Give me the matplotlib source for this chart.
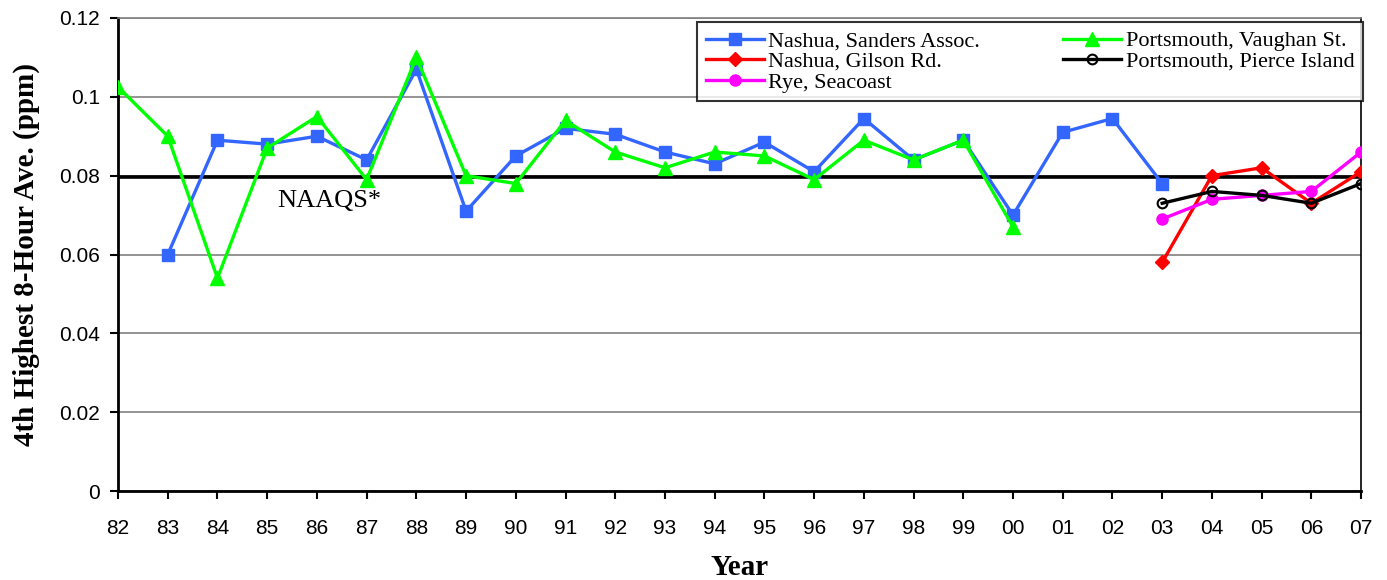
import numpy as np
import matplotlib.pyplot as plt

years = ["82", "83", "84", "85", "86", "87", "88", "89", "90", "91", "92", "93", "94",
         "95", "96", "97", "98", "99", "00", "01", "02", "03", "04", "05", "06", "07"]
nan = np.nan

nashua_sanders = [nan, 0.060, 0.089, 0.088, 0.090, 0.084, 0.107, 0.071, 0.085, 0.092,
                  0.0905, 0.086, 0.083, 0.0885, 0.081, 0.0945, 0.084, 0.089, 0.070,
                  0.091, 0.0945, 0.078, nan, nan, nan, nan]
ports_vaughan = [0.1025, 0.090, 0.054, 0.087, 0.095, 0.079, 0.110, 0.080, 0.078, 0.094,
                 0.086, 0.082, 0.086, 0.085, 0.079, 0.089, 0.084, 0.089, 0.067,
                 nan, nan, nan, nan, nan, nan, nan]
nashua_gilson = [nan] * 21 + [0.058, 0.080, 0.082, 0.073, 0.081]
ports_pierce = [nan] * 21 + [0.073, 0.076, 0.075, 0.073, 0.078]
rye_seacoast = [nan] * 21 + [0.069, 0.074, 0.075, 0.076, 0.086]
naaqs = 0.0797

x = np.arange(len(years))

fig = plt.figure(figsize=(13.87, 5.8), dpi=100)
ax = fig.add_axes([0.0851, 0.1534, 0.8962, 0.8156])

ax.set_ylim(0, 0.12)
ax.set_xlim(0, len(years) - 1)
ax.set_yticks(np.arange(0, 0.121, 0.02))
ax.set_yticklabels(["0", "0.02", "0.04", "0.06", "0.08", "0.1", "0.12"])
ax.set_xticks(x)
ax.set_xticklabels(years)
ax.grid(axis="y", color="#808080", lw=1.2, zorder=0)

ax.plot([x[0], x[-1]], [naaqs, naaqs], color="black", lw=2.6, zorder=2)
ax.text(4.25, naaqs - 0.0034, "NAAQS*", family="Liberation Serif", fontsize=19,
        ha="center", va="top")

l1, = ax.plot(x, nashua_sanders, color="#3366FF", lw=2.4, marker="s", ms=8,
              label="Nashua, Sanders Assoc.", zorder=3)
l2, = ax.plot(x, ports_vaughan, color="#00FF00", lw=2.4, marker="^", ms=10,
              label="Portsmouth, Vaughan St.", zorder=3)
l3, = ax.plot(x, nashua_gilson, color="#FF0000", lw=2.4, marker="D", ms=7,
              label="Nashua, Gilson Rd.", zorder=4)
l4, = ax.plot(x, ports_pierce, color="black", lw=2.4, marker="o", ms=7,
              mfc="none", mew=1.5, label="Portsmouth, Pierce Island", zorder=5)
l5, = ax.plot(x, rye_seacoast, color="#FF00FF", lw=2.4, marker="o", ms=8,
              label="Rye, Seacoast", zorder=4)

for side in ["left", "bottom"]:
    ax.spines[side].set_linewidth(2)
    ax.spines[side].set_color("black")
ax.spines["top"].set_color("#808080")
ax.spines["top"].set_linewidth(1.2)
ax.spines["right"].set_color("black")
ax.spines["right"].set_linewidth(1.2)

ax.tick_params(axis="both", direction="out", length=6, width=1.5, labelsize=15)
ax.tick_params(axis="x", pad=14)
ax.tick_params(axis="y", pad=7)
for lab in ax.get_xticklabels() + ax.get_yticklabels():
    lab.set_family("Liberation Sans")

ax.set_ylabel("4th Highest 8-Hour Ave. (ppm)", family="Liberation Serif",
              fontsize=21, fontweight="bold", labelpad=14)
ax.set_xlabel("Year", family="Liberation Serif", fontsize=21, fontweight="bold",
              labelpad=12)

leg = ax.legend(handles=[l1, l3, l5, l2, l4], ncol=2, loc="upper right",
                bbox_to_anchor=(1.0016, 0.9915),
                prop={"family": "Liberation Serif", "size": 16},
                frameon=True, fancybox=False, edgecolor="black",
                handlelength=2.6, handletextpad=0.2, borderaxespad=0,
                labelspacing=0.0, columnspacing=3.75, borderpad=0.4)
leg.get_frame().set_linewidth(1.5)
leg.set_zorder(10)

fig.savefig("out.png", dpi=100)
